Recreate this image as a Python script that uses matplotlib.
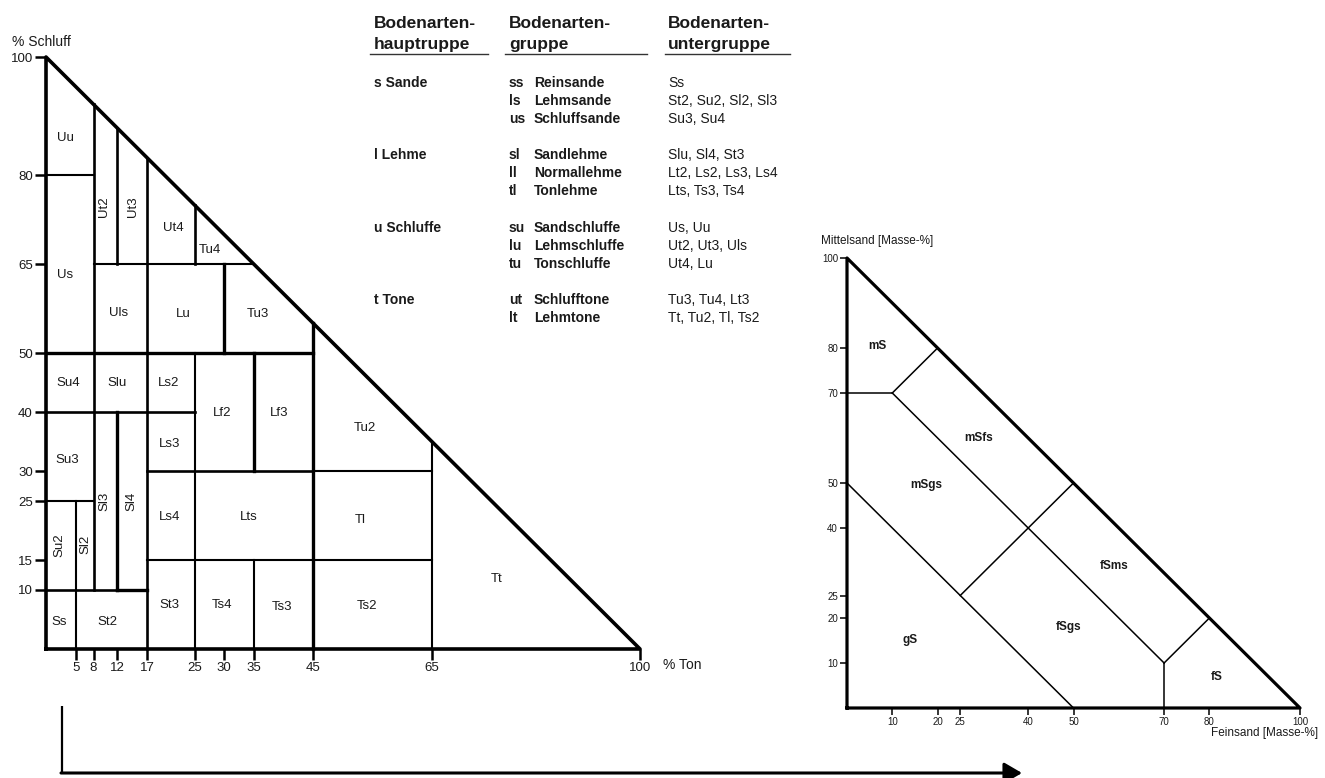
import matplotlib
matplotlib.use("Agg")
import matplotlib.pyplot as plt

plt.rcParams['font.family'] = ['Liberation Sans', 'DejaVu Sans']

W, H = 1325, 778

# ---------------- Left diagram: % Ton (x) vs % Schluff (y) ----------------
ton_ticks = [5, 8, 12, 17, 25, 30, 35, 45, 65, 100]
schluff_ticks = [10, 15, 25, 30, 40, 50, 65, 80, 100]

# class boundaries (x1, y1, x2, y2) in % Ton / % Schluff
thick_bounds = [(12, 10, 12, 40), (30, 50, 30, 65), (35, 30, 35, 50),
                (45, 0, 45, 55), (0, 50, 45, 50), (12, 10, 17, 10)]
medium_bounds = [(8, 10, 8, 92), (12, 65, 12, 88), (17, 0, 17, 83),
                 (25, 65, 25, 75), (0, 40, 25, 40), (17, 30, 45, 30),
                 (0, 10, 12, 10)]
thin_bounds = [(5, 0, 5, 25), (25, 0, 25, 50), (35, 0, 35, 15),
               (65, 0, 65, 35), (0, 80, 8, 80), (8, 65, 35, 65),
               (0, 25, 8, 25), (17, 15, 65, 15), (45, 30, 65, 30)]

class_names = ["Uu", "Ut2", "Ut3", "Ut4", "Tu4", "Us", "Uls", "Lu", "Tu3",
               "Su4", "Slu", "Ls2", "Lf2", "Lf3", "Ls3", "Su3", "Sl3", "Sl4",
               "Ls4", "Lts", "Su2", "Sl2", "St3", "Ts4", "Ts3", "Ss", "St2",
               "Tu2", "Tl", "Ts2", "Tt"]
class_ton = [3.2, 9.8, 14.6, 21.4, 27.6, 3.2, 12.3, 23.1, 35.7,
             3.8, 11.9, 20.6, 29.6, 39.3, 20.8, 3.6, 9.8, 14.3,
             20.8, 34.2, 2.2, 6.6, 20.8, 29.6, 39.8, 2.2, 10.4,
             53.7, 52.9, 54.0, 75.8]
class_schluff = [86.3, 74.7, 74.7, 71.1, 67.4, 63.2, 56.8, 56.6, 56.6,
                 44.9, 44.9, 44.9, 39.9, 39.9, 34.6, 32.0, 25.0, 25.0,
                 22.3, 22.3, 17.6, 17.6, 7.4, 7.4, 7.1, 4.6, 4.5,
                 37.3, 21.8, 7.3, 11.8]
class_vertical = ["Ut2", "Ut3", "Sl3", "Sl4", "Su2", "Sl2"]

# ---------------- Right diagram: Feinsand (x) vs Mittelsand (y) ----------------
fein_ticks = [10, 20, 25, 40, 50, 70, 80, 100]
mittel_ticks = [10, 20, 25, 40, 50, 70, 80, 100]
sand_bounds = [(0, 70, 10, 70), (10, 70, 20, 80), (10, 70, 70, 10),
               (70, 10, 80, 20), (70, 10, 70, 0), (0, 50, 50, 0),
               (25, 25, 50, 50)]
sand_names = ["mS", "mSfs", "mSgs", "fSms", "fSgs", "gS", "fS"]
sand_fein = [6.6, 29.0, 17.5, 59.0, 49.0, 14.0, 81.6]
sand_mittel = [80.4, 60.0, 49.5, 31.5, 18.0, 15.0, 7.0]

# ---------------- Table ----------------
headers = [("Bodenarten-", "hauptruppe"), ("Bodenarten-", "gruppe"),
           ("Bodenarten-", "untergruppe")]
main_groups = ["s Sande", "l Lehme", "u Schluffe", "t Tone"]
group_codes = [["ss", "ls", "us"], ["sl", "ll", "tl"], ["su", "lu", "tu"], ["ut", "lt"]]
group_names = [["Reinsande", "Lehmsande", "Schluffsande"],
               ["Sandlehme", "Normallehme", "Tonlehme"],
               ["Sandschluffe", "Lehmschluffe", "Tonschluffe"],
               ["Schlufftone", "Lehmtone"]]
subgroups = [["Ss", "St2, Su2, Sl2, Sl3", "Su3, Su4"],
             ["Slu, Sl4, St3", "Lt2, Ls2, Ls3, Ls4", "Lts, Ts3, Ts4"],
             ["Us, Uu", "Ut2, Ut3, Uls", "Ut4, Lu"],
             ["Tu3, Tu4, Lt3", "Tt, Tu2, Tl, Ts2"]]


def px_axes(fig, x0, ytop, x1, ybot):
    return fig.add_axes([x0 / W, 1 - ybot / H, (x1 - x0) / W, (ybot - ytop) / H])


fig = plt.figure(figsize=(W / 100, H / 100), dpi=100)
fig.patch.set_facecolor('white')

TXT = '#1a1a1a'

# ---- left diagram ----
axL = px_axes(fig, 46, 57, 640, 649)
axL.set_xlim(0, 100)
axL.set_ylim(0, 100)
axL.patch.set_alpha(0)
for s in axL.spines.values():
    s.set_visible(False)
axL.plot([0, 100, 0, 0], [0, 0, 100, 0], color='black', lw=2.6,
         solid_joinstyle='round', clip_on=False, zorder=3)
for segs, lw in ((thick_bounds, 2.4), (medium_bounds, 1.9), (thin_bounds, 1.5)):
    for x1, y1, x2, y2 in segs:
        axL.plot([x1, x2], [y1, y2], color='black', lw=lw, clip_on=False,
                 solid_capstyle='projecting', zorder=2)
for name, tx, sy in zip(class_names, class_ton, class_schluff):
    axL.text(tx, sy, name, ha='center', va='center', fontsize=9.5, color=TXT,
             rotation=90 if name in class_vertical else 0)
axL.set_xticks(ton_ticks)
axL.set_xticklabels([str(v) for v in ton_ticks])
axL.set_yticks(schluff_ticks)
axL.set_yticklabels([str(v) for v in schluff_ticks])
axL.tick_params(axis='both', direction='out', length=8, width=1.8,
                labelsize=9.5, labelcolor=TXT, pad=1.5)

# ---- right diagram ----
axR = px_axes(fig, 847, 258, 1300, 708)
axR.set_xlim(0, 100)
axR.set_ylim(0, 100)
axR.patch.set_alpha(0)
for s in axR.spines.values():
    s.set_visible(False)
axR.plot([0, 100, 0, 0], [0, 0, 100, 0], color='black', lw=2.3,
         solid_joinstyle='round', clip_on=False, zorder=3)
for x1, y1, x2, y2 in sand_bounds:
    axR.plot([x1, x2], [y1, y2], color='black', lw=1.1, clip_on=False, zorder=2)
for name, fx, my in zip(sand_names, sand_fein, sand_mittel):
    axR.text(fx, my, name, ha='center', va='center', fontsize=8.5,
             fontweight='bold', color=TXT)
axR.set_xticks(fein_ticks)
axR.set_xticklabels([str(v) for v in fein_ticks])
axR.set_yticks(mittel_ticks)
axR.set_yticklabels([str(v) for v in mittel_ticks])
axR.tick_params(axis='both', direction='out', length=5, width=1.1,
                labelsize=7, labelcolor=TXT, pad=1.5)

# ---- overlay in pixel coordinates: axis titles, table, arrow ----
ov = fig.add_axes([0, 0, 1, 1])
ov.set_xlim(0, W)
ov.set_ylim(H, 0)
ov.axis('off')
ov.patch.set_alpha(0)

ov.text(12, 42, "% Schluff", fontsize=10, color=TXT, ha='left', va='center')
ov.text(663, 665, "% Ton", fontsize=10, color=TXT, ha='left', va='center')
ov.text(821, 241, "Mittelsand [Masse-%]", fontsize=8.5, color=TXT, ha='left', va='center')
ov.text(1318, 733, "Feinsand [Masse-%]", fontsize=8.5, color=TXT, ha='right', va='center')

col_x = [374, 509, 668]
line_spans = [(370, 488), (505, 647), (665, 790)]
for (h1, h2), cx, (u0, u1) in zip(headers, col_x, line_spans):
    ov.text(cx, 28, h1, fontsize=12.5, fontweight='bold', color=TXT, va='baseline')
    ov.text(cx, 49, h2, fontsize=12.5, fontweight='bold', color=TXT, va='baseline')
    ov.plot([u0, u1], [54, 54], color='#333333', lw=1.0)

group_base = [87, 159, 232, 304]
row_step = 18
for g, base in enumerate(group_base):
    ov.text(col_x[0], base, main_groups[g], fontsize=10, fontweight='bold',
            color=TXT, va='baseline')
    for r, (code, nm, sub) in enumerate(zip(group_codes[g], group_names[g], subgroups[g])):
        yy = base + r * row_step
        ov.text(col_x[1], yy, code, fontsize=10, fontweight='bold', color=TXT, va='baseline')
        ov.text(534, yy, nm, fontsize=10, fontweight='bold', color=TXT, va='baseline')
        ov.text(col_x[2], yy, sub, fontsize=10, color=TXT, va='baseline')

ov.plot([62, 62], [706, 774], color='black', lw=1.6, solid_capstyle='butt')
ov.annotate('', xy=(1022, 773), xytext=(61, 773),
            arrowprops=dict(arrowstyle='-|>,head_length=0.6,head_width=0.35',
                            lw=2.2, color='black', mutation_scale=18,
                            shrinkA=0, shrinkB=0))

fig.savefig('out.png', dpi=100, facecolor='white')
